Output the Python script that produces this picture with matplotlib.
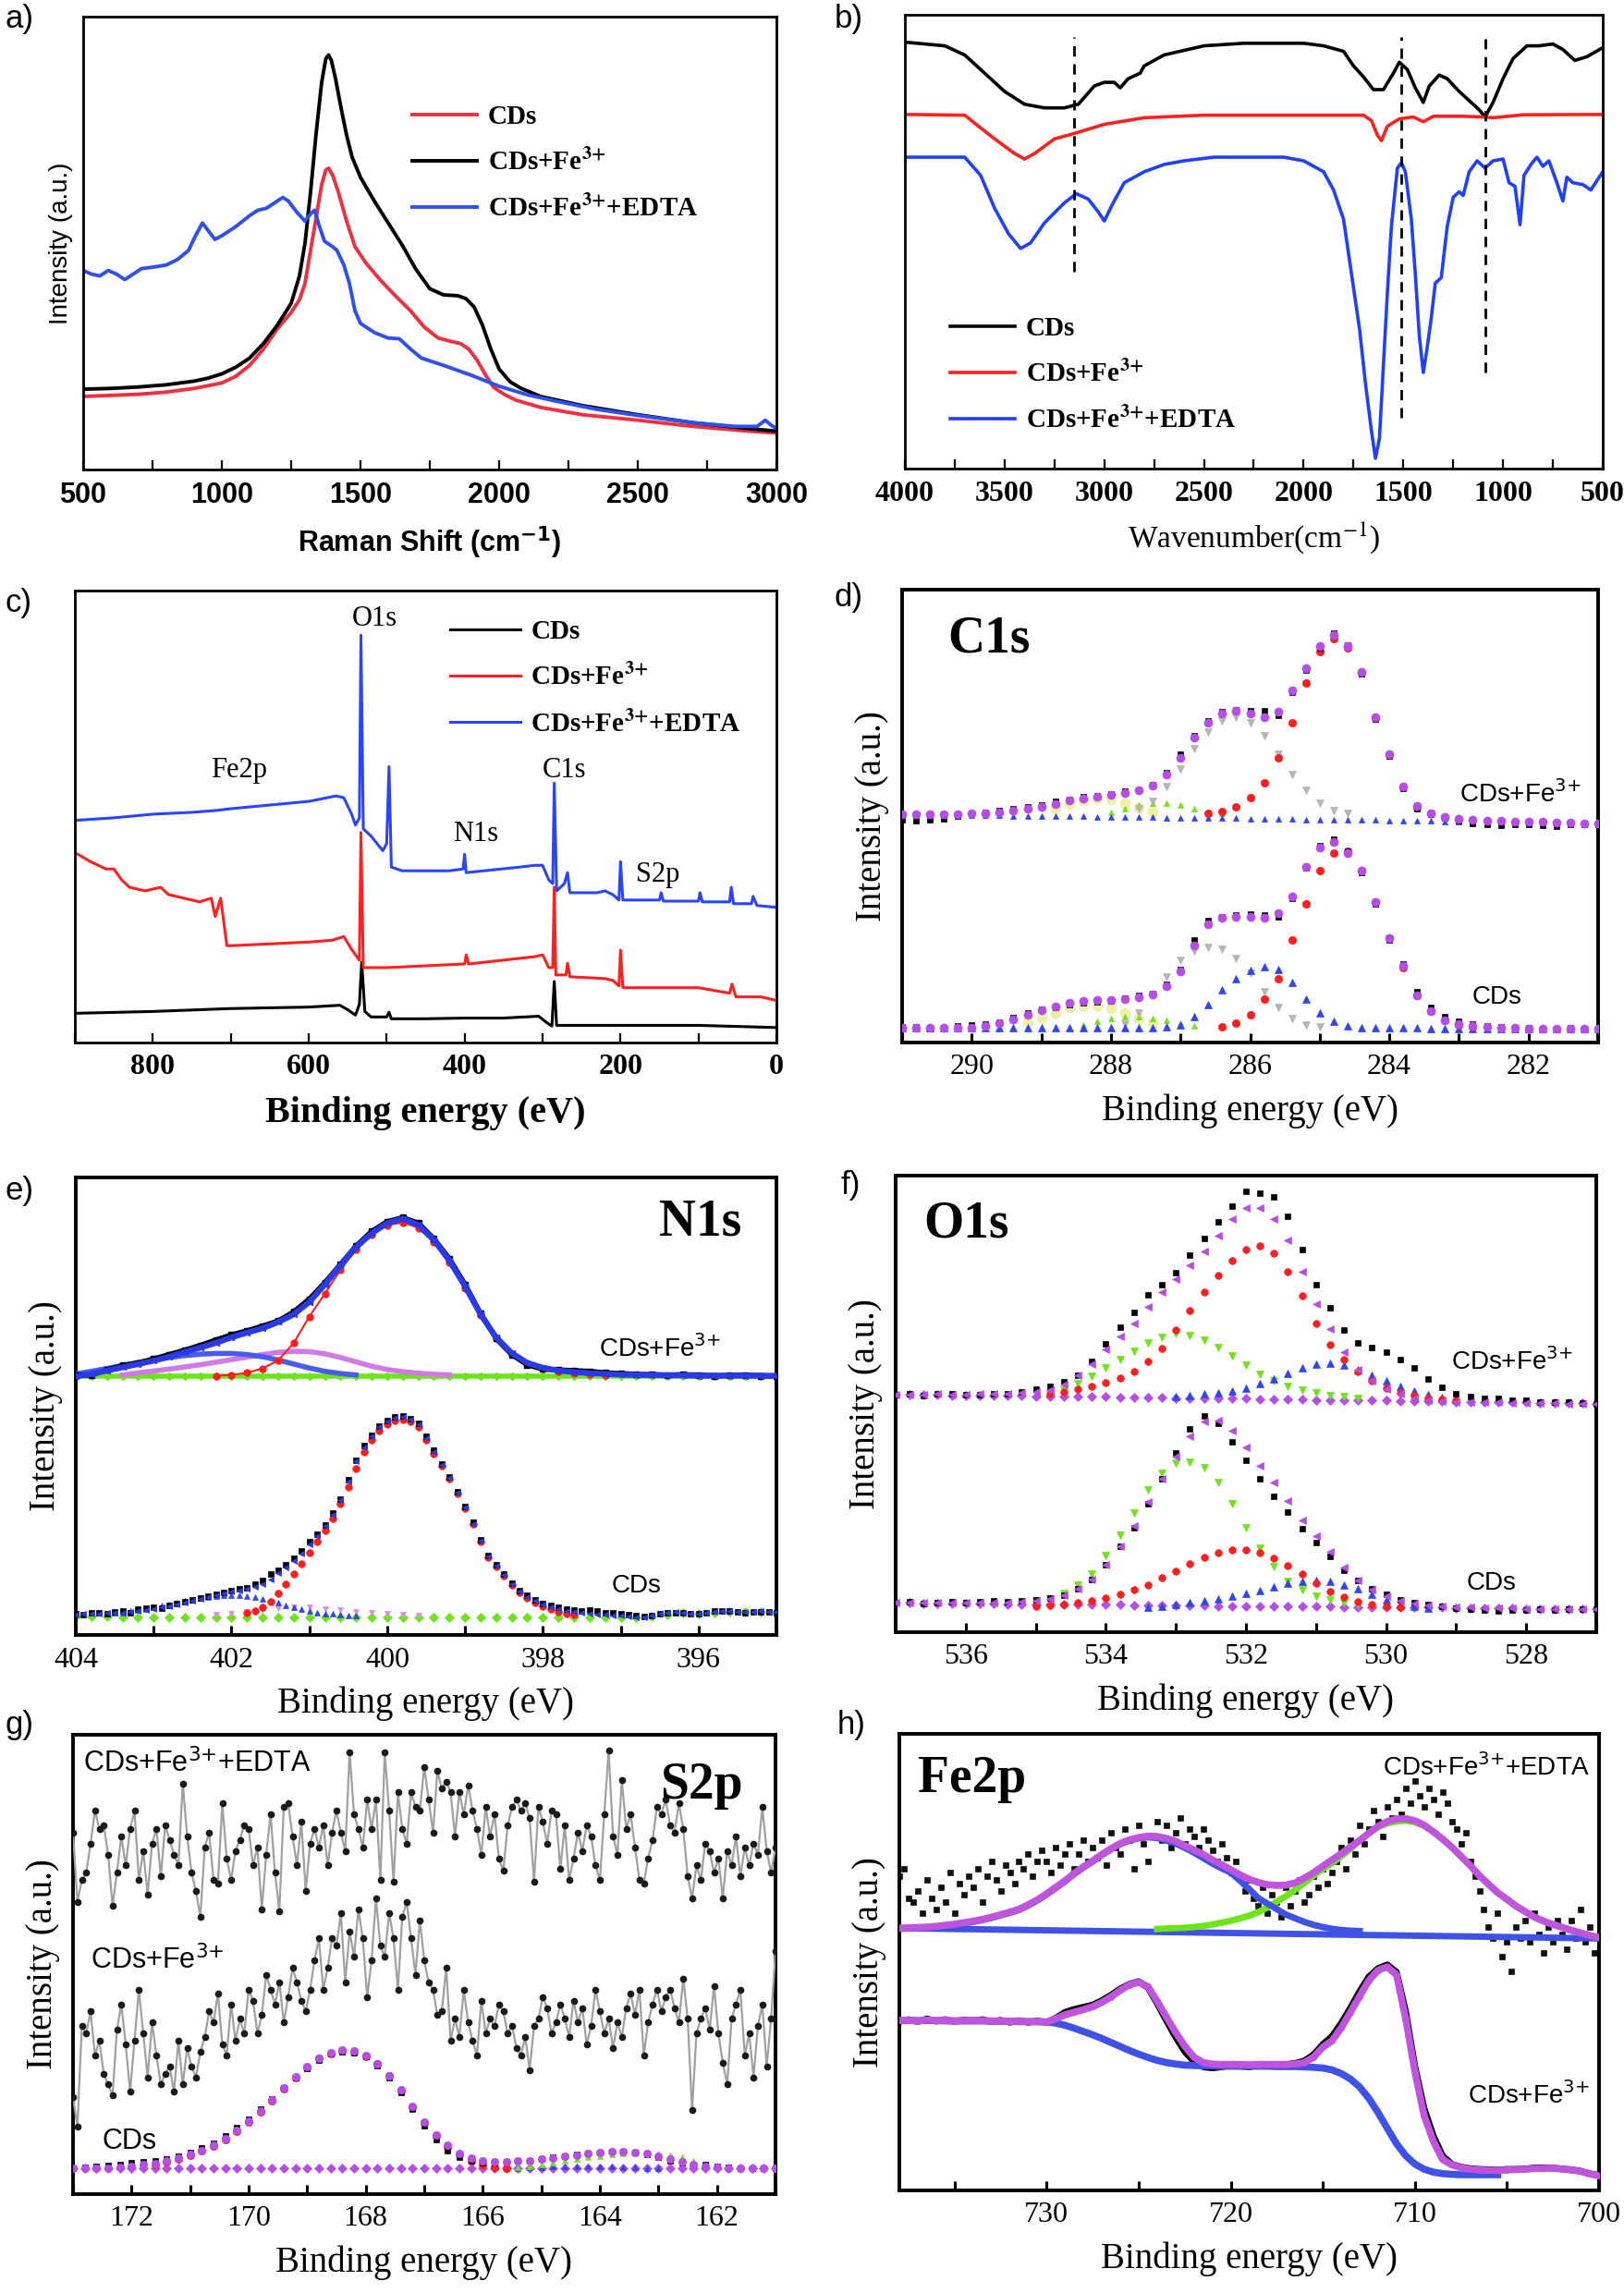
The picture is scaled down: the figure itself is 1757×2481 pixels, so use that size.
import numpy as np
import matplotlib
matplotlib.use("Agg")
import matplotlib.pyplot as plt
from matplotlib.font_manager import FontProperties
from matplotlib.ticker import MultipleLocator

SERIF = ["Liberation Serif", "DejaVu Serif"]
SANS = ["Liberation Sans", "DejaVu Sans"]

# ======================= DATA =======================
# ---- a) Raman ----
raman_x_cds = [500, 600, 700, 800, 900, 1000, 1050, 1100, 1150, 1200, 1250, 1280, 1300, 1320, 1340, 1360, 1375, 1385, 1400, 1420, 1450, 1480, 1520, 1570, 1620, 1680, 1730, 1780, 1830, 1860, 1890, 1920, 1950, 1980, 2020, 2060, 2150, 2300, 2500, 2700, 2900, 3000]
raman_y_cds = [200, 203, 206, 212, 222, 237, 255, 285, 330, 385, 430, 465, 510, 600, 690, 780, 820, 825, 805, 760, 680, 610, 565, 520, 480, 435, 390, 360, 350, 345, 330, 300, 260, 225, 205, 190, 170, 150, 135, 118, 105, 100]
raman_x_fe = [500, 600, 700, 800, 900, 950, 1000, 1050, 1100, 1150, 1200, 1250, 1280, 1300, 1320, 1340, 1360, 1375, 1385, 1395, 1410, 1430, 1450, 1470, 1500, 1550, 1600, 1650, 1700, 1750, 1800, 1850, 1880, 1910, 1940, 1970, 2000, 2040, 2080, 2150, 2300, 2500, 2700, 2900, 3000]
raman_y_fe = [220, 222, 226, 232, 242, 250, 262, 280, 305, 345, 395, 455, 530, 620, 760, 920, 1060, 1125, 1135, 1120, 1070, 990, 915, 855, 800, 735, 675, 615, 548, 495, 478, 476, 468, 445, 395, 330, 275, 240, 222, 200, 175, 150, 128, 112, 105]
raman_x_edta = [500, 530, 560, 590, 620, 650, 680, 710, 760, 800, 840, 880, 905, 930, 955, 975, 1000, 1050, 1100, 1130, 1160, 1190, 1220, 1240, 1270, 1300, 1320, 1335, 1350, 1370, 1400, 1415, 1440, 1460, 1480, 1500, 1550, 1600, 1640, 1680, 1720, 1800, 1900, 2000, 2100, 2200, 2350, 2500, 2700, 2850, 2930, 2960, 2980, 3000]
raman_y_edta = [545, 535, 530, 545, 535, 520, 535, 550, 555, 560, 575, 600, 640, 675, 650, 630, 640, 665, 695, 710, 715, 730, 745, 735, 705, 680, 700, 710, 670, 625, 610, 600, 560, 510, 435, 400, 375, 360, 358, 330, 305, 285, 258, 228, 205, 188, 165, 148, 128, 118, 118, 135, 122, 112]
raman_ticks = [500, 1000, 1500, 2000, 2500, 3000]

# ---- b) FTIR ----
ftir_x_cds = [4000, 3800, 3700, 3600, 3500, 3400, 3300, 3200, 3130, 3050, 3000, 2950, 2920, 2880, 2820, 2800, 2700, 2500, 2300, 2000, 1900, 1800, 1750, 1700, 1650, 1600, 1550, 1520, 1480, 1440, 1400, 1370, 1320, 1280, 1220, 1180, 1120, 1090, 1050, 1000, 950, 880, 820, 750, 700, 640, 580, 500]
ftir_y_cds = [1168, 1158, 1133, 1083, 1033, 998, 988, 988, 998, 1048, 1058, 1058, 1043, 1068, 1083, 1103, 1133, 1158, 1165, 1165, 1158, 1143, 1103, 1073, 1038, 1038, 1083, 1113, 1093, 1043, 1003, 1048, 1078, 1068, 1033, 1013, 983, 963, 1003, 1068, 1123, 1158, 1158, 1163, 1148, 1118, 1128, 1153]
ftir_x_fe = [4000, 3700, 3620, 3550, 3450, 3400, 3350, 3250, 3150, 3000, 2800, 2500, 2000, 1700, 1660, 1630, 1610, 1580, 1520, 1450, 1400, 1350, 1200, 1100, 1050, 900, 500]
ftir_y_fe = [970, 968, 933, 903, 863, 848, 863, 903, 918, 943, 961, 968, 968, 968, 953, 913, 898, 938, 958, 963, 950, 965, 965, 963, 961, 969, 970]
ftir_x_edta = [4000, 3700, 3620, 3550, 3480, 3420, 3370, 3300, 3200, 3140, 3080, 3030, 3000, 2960, 2900, 2800, 2700, 2600, 2450, 2100, 2000, 1900, 1850, 1800, 1760, 1720, 1690, 1660, 1640, 1620, 1600, 1580, 1560, 1530, 1510, 1490, 1460, 1440, 1420, 1400, 1380, 1360, 1340, 1310, 1280, 1250, 1220, 1200, 1170, 1130, 1090, 1050, 1000, 970, 940, 915, 895, 860, 830, 800, 770, 730, 700, 680, 650, 600, 560, 500]
ftir_y_edta = [853, 853, 803, 713, 643, 603, 618, 673, 728, 753, 738, 703, 678, 723, 783, 813, 833, 843, 853, 853, 843, 813, 763, 683, 533, 383, 233, 103, 28, 83, 283, 483, 663, 823, 838, 813, 683, 533, 363, 263, 333, 413, 508, 523, 663, 743, 758, 748, 813, 843, 823, 843, 848, 783, 773, 668, 803, 833, 853, 828, 843, 783, 733, 798, 783, 778, 763, 813]
ftir_dash_x = [3150, 1510, 1090]
ftir_dash_top = [1183, 1183, 1183]
ftir_dash_bottom = [538, 138, 263]
ftir_ticks = [4000, 3500, 3000, 2500, 2000, 1500, 1000, 500]

# ---- c) XPS survey ----
surv_x_cds = [900, 800, 700, 600, 560, 550, 540, 535, 532, 528, 520, 500, 497, 494, 450, 400, 350, 305, 295, 288, 285, 282, 270, 200, 100, 0]
surv_y_cds = [80, 85, 93, 97, 102, 90, 75, 105, 220, 85, 70, 70, 83, 65, 65, 67, 67, 72, 55, 45, 167, 47, 47, 47, 47, 41]
surv_x_fe = [900, 880, 860, 850, 840, 830, 810, 790, 780, 760, 740, 725, 720, 713, 705, 700, 650, 600, 570, 555, 545, 535, 533, 530, 500, 400, 398, 395, 310, 300, 292, 287, 285, 283, 270, 268, 265, 220, 210, 202, 200, 197, 150, 100, 60, 57, 52, 20, 0]
surv_y_fe = [520, 495, 475, 475, 445, 425, 415, 425, 405, 395, 385, 395, 345, 395, 265, 265, 270, 275, 280, 290, 255, 225, 575, 205, 205, 215, 240, 215, 235, 240, 205, 205, 425, 185, 185, 217, 180, 175, 170, 155, 253, 150, 150, 150, 135, 160, 125, 125, 115]
surv_x_edta = [900, 850, 800, 750, 720, 700, 650, 600, 565, 555, 545, 540, 535, 533, 530, 525, 520, 505, 500, 497, 494, 480, 420, 402, 400, 398, 330, 310, 300, 292, 287, 285, 282, 272, 268, 265, 230, 220, 210, 202, 200, 197, 150, 148, 145, 100, 98, 95, 60, 58, 55, 32, 30, 25, 0]
surv_y_edta = [608, 615, 625, 630, 635, 640, 650, 660, 675, 670, 625, 595, 615, 1115, 585, 575, 565, 525, 545, 755, 480, 470, 470, 475, 515, 465, 480, 485, 485, 445, 435, 710, 415, 435, 465, 410, 410, 415, 405, 390, 495, 390, 390, 410, 387, 387, 410, 385, 385, 425, 380, 380, 400, 375, 370]
surv_ann_text = ["O1s", "Fe2p", "C1s", "N1s", "S2p"]
surv_ann_x = [516, 690, 272, 386, 152]
surv_ann_y = [1160, 745, 745, 570, 460]
surv_ticks = [800, 600, 400, 200, 0]

# ---- d) C1s (grid 291 -> 281, step 0.2 eV) ----
c1s_up_env = [625, 625, 625, 625, 626, 627, 628, 630, 634, 640, 645, 653, 662, 668, 673, 677, 683, 690, 703, 735, 780, 835, 875, 900, 908, 900, 890, 905, 965, 1025, 1085, 1117, 1085, 1015, 890, 790, 700, 648, 628, 618, 612, 610, 608, 607, 606, 605, 604, 603, 602, 601, 600]
c1s_up_data = [610, 608, 610, 612, 620, 628, 630, 634, 640, 646, 650, 660, 665, 672, 676, 681, 688, 692, 705, 740, 790, 840, 880, 905, 910, 908, 908, 895, 960, 1020, 1080, 1122, 1088, 1010, 885, 785, 695, 640, 625, 615, 608, 600, 596, 594, 596, 598, 595, 592, 596, 598, 598]
c1s_up_red = [627, 632, 645, 670, 710, 780, 875, 985, 1070, 1105, 1080, 1012, 888, 788, 698, 644, 627, 618, 612]          # 286.6 -> 283.0
c1s_up_gray = [640, 660, 700, 750, 805, 850, 880, 890, 875, 840, 790, 735, 690, 655, 635, 627]                       # 287.6 -> 284.6
c1s_up_green = [630, 640, 650, 655, 655, 650, 640, 632, 627]                                                          # 288.0 -> 286.4
c1s_up_yellow = [640, 652, 662, 667, 665, 655, 642, 632]                                                              # 288.8 -> 287.4
c1s_up_blue = [625, 625, 624, 624, 623, 623, 622, 622, 621, 621, 620, 620, 619, 619, 618, 618, 617, 617, 617, 616, 616, 615, 615, 614, 614, 613, 613, 612, 612, 611, 611, 610, 610, 609, 609, 608, 608, 607, 607, 606, 606, 605, 605, 604, 604, 603, 603, 602, 601, 601, 600]
c1s_lo_env = [40, 40, 40, 40, 40, 41, 46, 53, 63, 75, 88, 98, 108, 115, 116, 117, 120, 123, 131, 155, 195, 265, 325, 342, 345, 345, 342, 355, 400, 480, 535, 550, 520, 470, 385, 285, 210, 130, 85, 62, 50, 45, 42, 40, 40, 39, 39, 38, 38, 37, 37]
c1s_lo_data = [42, 44, 38, 41, 45, 48, 50, 56, 68, 80, 92, 96, 103, 110, 112, 114, 122, 130, 135, 160, 200, 280, 335, 345, 350, 352, 350, 345, 395, 478, 540, 556, 524, 465, 380, 280, 215, 140, 95, 70, 58, 50, 46, 42, 41, 40, 38, 39, 40, 39, 37]
c1s_lo_red = [42, 52, 75, 120, 175, 280, 380, 470, 520, 525, 470, 385, 285, 205, 130, 85, 60, 48, 42]                  # 286.4 -> 282.8
c1s_lo_gray = [50, 80, 130, 180, 225, 250, 260, 255, 230, 190, 140, 95, 65, 48, 42]                                    # 287.8 -> 285.0
c1s_lo_green = [48, 58, 66, 70, 70, 67, 60, 52, 45]                                                                   # 288.4 -> 286.8
c1s_lo_yellow = [55, 68, 82, 95, 100, 100, 93, 80, 65, 52]                                                           # 289.2 -> 287.4
c1s_lo_blue = [40, 40, 40, 40, 40, 40, 40, 40, 40, 40, 40, 40, 40, 40, 40, 40, 40, 40, 40, 44, 48, 72, 105, 143, 175, 197, 207, 200, 165, 118, 80, 57, 45, 41, 40, 40, 40, 40, 39, 39, 39, 39, 38, 38, 38, 38, 38, 37, 37, 37, 37]
c1s_ticks = [290, 288, 286, 284, 282]

# ---- e) N1s ----
n1s_up_env = [708, 715, 724, 733, 742, 751, 762, 775, 787, 800, 815, 828, 840, 857, 878, 912, 960, 1012, 1062, 1100, 1128, 1140, 1123, 1082, 1025, 955, 878, 815, 772, 745, 732, 724, 720, 717, 715, 713, 712, 712, 711, 711, 710, 710, 710, 710, 710, 710]   # 404 -> 395 (0.2)
n1s_up_data = [712, 712, 726, 738, 745, 756, 768, 780, 793, 808, 822, 833, 846, 860, 885, 920, 965, 1015, 1065, 1105, 1132, 1143, 1128, 1085, 1030, 960, 880, 812, 768, 740, 728, 726, 724, 722, 718, 716, 714, 713, 712, 713, 712, 710, 711, 712, 710, 709]
n1s_up_red = [710, 712, 718, 730, 752, 800, 872, 935, 1000, 1055, 1095, 1122, 1130, 1115, 1075, 1020, 950, 875, 812, 770, 743, 730, 722, 717, 713, 711]   # 402.2 -> 397.2
n1s_up_purple = [712, 718, 723, 728, 734, 740, 747, 754, 761, 768, 774, 777, 776, 770, 760, 748, 736, 727, 721, 717, 714, 712]                            # 403.4 -> 399.2
n1s_up_bluec = [715, 722, 730, 738, 746, 753, 760, 765, 769, 771, 771, 768, 762, 753, 742, 731, 722, 716, 712]                                            # 404.0 -> 400.4
n1s_up_base = [708, 708, 708, 708, 708, 708, 708, 708, 708, 708, 708, 708, 708, 708, 708, 708, 708, 708, 708, 708, 708, 708, 708, 708, 708, 708, 708, 708, 708, 708, 708, 708, 708, 708, 708, 708, 708, 708, 708, 708, 708, 708, 708, 708, 708, 708]
n1s_lo_env = [56, 57, 58, 59, 60, 61, 62, 63, 66, 69, 72, 75, 79, 84, 89, 94, 99, 104, 108, 113, 118, 122, 127, 132, 140, 153, 170, 185, 203, 222, 248, 270, 298, 330, 370, 420, 475, 515, 545, 570, 585, 595, 598, 590, 578, 540, 500, 465, 430, 390, 350, 305, 258, 215, 190, 165, 140, 120, 105, 93, 83, 76, 71, 67, 63, 60, 58, 56, 55, 54, 53, 50, 48, 48, 52, 57, 60, 63, 61, 59, 58, 60, 64, 67, 66, 64, 63, 64, 65, 64, 63]   # 404 -> 395 (0.1)
n1s_lo_data = [58, 55, 60, 62, 58, 64, 66, 62, 70, 74, 76, 73, 82, 86, 92, 96, 102, 106, 112, 116, 122, 126, 130, 138, 150, 168, 176, 192, 210, 230, 255, 276, 300, 335, 372, 424, 478, 518, 548, 572, 588, 598, 600, 592, 580, 545, 505, 468, 433, 392, 352, 308, 260, 218, 192, 168, 142, 122, 108, 96, 86, 80, 75, 72, 68, 66, 68, 66, 62, 60, 58, 55, 52, 50, 53, 58, 61, 62, 60, 58, 57, 61, 65, 66, 65, 63, 62, 63, 64, 63, 62]
n1s_lo_red = [60, 66, 76, 92, 115, 140, 168, 195, 225, 255, 285, 320, 360, 405, 455, 500, 535, 560, 578, 587, 590, 584, 570, 535, 497, 462, 427, 388, 348, 303, 256, 213, 188, 162, 137, 117, 100, 88, 78, 70, 63, 58, 55]   # 401.8 -> 397.6
n1s_lo_bluec = [58, 60, 62, 65, 68, 72, 76, 80, 84, 89, 93, 97, 101, 104, 106, 108, 108, 108, 106, 103, 99, 94, 88, 82, 76, 70, 66, 62, 59, 57, 55, 54, 53]   # 403.6 -> 400.4
n1s_lo_purple = [56, 59, 63, 68, 73, 76, 75, 72, 68, 64, 60, 57, 55, 54]   # 402.2 -> 399.6
n1s_lo_base = [50, 50, 50, 49, 49, 49, 49, 49, 49, 49, 49, 49, 49, 49, 49, 49, 49, 49, 49, 49, 49, 49, 49, 49, 49, 49, 49, 49, 49, 49, 49, 49, 49, 48, 48, 48, 48, 50, 56, 60, 58, 60, 64, 64, 63, 63]
n1s_ticks = [404, 402, 400, 398, 396]

# ---- f) O1s (grid 537 -> 527, 0.2) ----
o1s_up_env = [650, 650, 650, 651, 650, 650, 651, 651, 652, 654, 657, 663, 678, 703, 733, 772, 808, 845, 890, 930, 965, 1003, 1041, 1085, 1130, 1160, 1160, 1130, 1070, 985, 898, 828, 765, 718, 688, 665, 652, 640, 635, 631, 630, 629, 628, 628, 627, 627, 626, 626, 625, 625, 625]
o1s_up_data = [650, 652, 648, 651, 653, 650, 649, 652, 653, 658, 664, 672, 684, 702, 740, 787, 833, 873, 921, 950, 983, 1030, 1075, 1122, 1165, 1205, 1200, 1190, 1137, 1045, 950, 886, 825, 790, 778, 765, 745, 722, 693, 670, 652, 643, 640, 638, 634, 633, 630, 629, 628, 626, 625]
o1s_up_red = [652, 658, 665, 673, 683, 695, 712, 740, 775, 825, 880, 930, 975, 1015, 1045, 1055, 1035, 985, 920, 845, 785, 745, 712, 688, 668, 655, 646, 640, 636, 633]   # 534.8 -> 529.0
o1s_up_green = [655, 663, 680, 700, 722, 745, 768, 790, 806, 815, 812, 798, 778, 755, 730, 705, 688, 673, 662, 654, 648, 643, 640]   # 534.8 -> 530.4
o1s_up_blue = [645, 648, 651, 655, 660, 668, 680, 693, 707, 722, 732, 735, 730, 718, 703, 687, 672, 660, 650, 642, 636]   # 533.0 -> 529.0
o1s_up_base = [650, 650, 649, 649, 648, 648, 647, 647, 646, 646, 645, 645, 644, 644, 643, 643, 642, 642, 641, 641, 640, 640, 639, 639, 638, 638, 637, 637, 636, 636, 635, 635, 634, 634, 633, 633, 632, 632, 631, 631, 630, 630, 629, 629, 628, 628, 627, 627, 626, 626, 625]
o1s_lo_env = [80, 80, 80, 81, 81, 81, 81, 82, 82, 83, 85, 90, 100, 118, 145, 185, 235, 290, 355, 420, 480, 535, 575, 578, 550, 505, 455, 410, 360, 305, 262, 220, 178, 142, 115, 98, 86, 78, 73, 70, 68, 67, 66, 65, 65, 64, 64, 63, 63, 62, 62]
o1s_lo_data = [80, 83, 79, 82, 84, 81, 83, 85, 84, 86, 88, 93, 102, 120, 145, 185, 235, 285, 350, 420, 490, 555, 590, 570, 520, 470, 420, 372, 328, 282, 245, 208, 170, 142, 120, 104, 88, 80, 75, 70, 66, 63, 60, 58, 60, 61, 62, 61, 63, 62, 62]
o1s_lo_green = [85, 92, 105, 128, 160, 210, 265, 325, 390, 435, 462, 465, 450, 410, 350, 285, 230, 180, 140, 115, 98, 88, 80, 75]   # 535.0 -> 530.4
o1s_lo_red = [72, 74, 77, 81, 87, 94, 104, 115, 130, 148, 168, 188, 205, 217, 224, 225, 218, 203, 182, 158, 133, 112, 95, 83, 75, 70, 67]   # 535.0 -> 529.8
o1s_lo_blue = [68, 72, 76, 80, 85, 91, 98, 106, 114, 124, 133, 139, 141, 139, 130, 118, 103, 88, 77, 70, 66]   # 533.4 -> 529.4
o1s_lo_base = [80, 80, 79, 79, 79, 78, 78, 78, 77, 77, 77, 76, 76, 76, 75, 75, 75, 74, 74, 74, 73, 73, 73, 72, 72, 72, 71, 71, 71, 70, 70, 70, 69, 69, 69, 68, 68, 68, 67, 67, 66, 66, 66, 65, 65, 64, 64, 63, 63, 62, 62]
o1s_ticks = [536, 534, 532, 530, 528]

# ---- g) S2p ----
s2p_edta = [990, 800, 860, 880, 960, 1050, 1000, 1010, 930, 790,
            880, 980, 900, 1000, 1050, 860, 940, 820, 960, 1000,
            870, 1010, 970, 930, 900, 1125, 980, 880, 830, 760,
            950, 990, 860, 850, 1070, 920, 860, 940, 970, 1010,
            1000, 900, 950, 780, 930, 1040, 880, 775, 1060, 1070,
            980, 900, 1020, 830, 960, 1000, 950, 1010, 900, 990,
            1050, 990, 940, 1210, 1040, 1000, 950, 1080, 1000, 1080,
            860, 1210, 1050, 855, 1100, 1000, 960, 1100, 1060, 1050,
            1170, 1080, 990, 1160, 1110, 1130, 1100, 980, 1100, 1040,
            1120, 1050, 1000, 930, 1060, 980, 1040, 920, 885, 1010,
            1060, 1080, 1050, 1070, 1030, 855, 1060, 1020, 960, 1050,
            1040, 890, 1010, 860, 920, 990, 940, 1010, 980, 900,
            860, 1040, 1215, 980, 930, 1135, 1000, 1040, 950, 860,
            850, 920, 970, 1060, 1040, 1080, 1010, 990, 1070, 1000,
            870, 810, 900, 860, 960, 940, 880, 920, 810, 940,
            900, 980, 870, 950, 900, 960, 930, 1060, 940, 880,
            950]
s2p_fe = [265, 185, 460, 440, 500, 380, 420, 330, 300, 270,
          450, 520, 410, 280, 420, 560, 440, 320, 470, 380,
          300, 330, 350, 280, 420, 300, 400, 350, 320, 390,
          430, 500, 470, 550, 410, 380, 520, 420, 480, 440,
          560, 530, 440, 490, 600, 560, 520, 580, 470, 540,
          620, 580, 530, 500, 560, 640, 700, 560, 620, 700,
          680, 770, 580, 720, 650, 780, 700, 540, 640, 810,
          680, 650, 770, 700, 560, 760, 800, 700, 600, 750,
          640, 580, 560, 490, 500, 620, 420, 480, 430, 560,
          470, 420, 380, 530, 440, 480, 460, 520, 500, 440,
          460, 400, 380, 430, 340, 460, 480, 540, 510, 440,
          470, 520, 480, 430, 530, 470, 510, 410, 460, 560,
          500, 440, 480, 400, 470, 430, 510, 550, 490, 560,
          380, 470, 520, 560, 500, 540, 560, 510, 470, 590,
          480, 230, 440, 480, 510, 450, 570, 440, 360, 300,
          480, 520, 560, 380, 440, 320, 460, 520, 350, 480,
          665]
s2p_env = [70, 70, 71, 72, 74, 77, 80, 84, 90, 98, 108, 120, 134, 152, 175, 200, 228, 258, 290, 322, 350, 373, 388, 395, 392, 380, 358, 325, 285, 240, 198, 162, 133, 112, 98, 91, 89, 89, 90, 92, 95, 99, 103, 107, 111, 114, 116, 116, 115, 111, 105, 97, 89, 82, 77, 74, 72, 71, 70, 70, 70]   # 173 -> 161 (0.2)
s2p_data = [72, 74, 76, 78, 80, 85, 88, 92, 96, 104, 114, 126, 140, 160, 182, 205, 232, 260, 292, 318, 345, 368, 385, 390, 388, 378, 352, 318, 278, 232, 188, 150, 120, 100, 90, 86, 86, 88, 90, 92, 95, 100, 104, 108, 112, 114, 116, 117, 115, 110, 102, 92, 86, 82, 80, 76, 74, 72, 71, 70, 72]
s2p_red = [82, 88, 96, 106, 118, 132, 150, 173, 198, 226, 256, 288, 320, 348, 371, 386, 393, 390, 378, 356, 323, 283, 238, 196, 160, 130, 108, 92, 80, 74, 71]   # 171.6 -> 165.6
s2p_green = [72, 74, 77, 81, 85, 90, 95, 100, 104, 108, 112, 114, 114, 112, 107, 100, 92, 84, 78, 74]   # 165.6 -> 161.8
s2p_blue = [71, 72, 73, 74, 75, 76, 76, 76, 76, 75, 74, 73, 72, 71]   # 165.6 -> 163.0
s2p_base = [70, 70, 70, 70, 70, 70, 70, 70, 70, 70, 70, 70, 70, 70, 70, 70, 70, 70, 70, 70, 70, 70, 70, 70, 70, 70, 70, 70, 70, 70, 70, 70, 70, 70, 70, 70, 70, 70, 70, 70, 70, 70, 70, 70, 70, 70, 70, 70, 70, 70, 70, 70, 70, 70, 70, 70, 70, 70, 70, 70, 70]
s2p_ticks = [172, 170, 168, 166, 164, 162]

# ---- h) Fe2p ----
fe_up_data = [860, 880, 800, 790, 820, 760, 850, 800, 770, 830, 790, 870, 760, 840, 810, 860,
              830, 880, 790, 860, 900, 850, 820, 890, 870, 840, 900, 880, 920, 860, 900, 930,
              900, 870, 940, 890, 920, 950, 880, 920, 960, 900, 940, 910, 960, 890, 980, 940,
              920, 990, 960, 880, 1000, 950, 900, 970, 1010, 960, 1000, 940, 980, 1020, 950, 990,
              970, 940, 990, 960, 930, 900, 950, 910, 870, 900, 860, 820, 850, 800, 780, 830,
              760, 810, 790, 750, 830, 780, 820, 850, 790, 810, 860, 830, 880, 840, 870, 900,
              940, 880, 960, 920, 1000, 950, 990, 1040, 1010, 970, 1050, 1020, 1070, 1030, 1100, 1060,
              1120, 1080, 1050, 1100, 1070, 1030, 1090, 1060, 1010, 990, 950, 980, 900, 860, 820, 770,
              720, 690, 760, 640, 680, 600, 720, 690, 740, 680, 760, 700, 650, 720, 680, 740,
              700, 660, 740, 690, 770, 680, 720, 650, 690]   # 738 -> 700 (0.25)
fe_up_env = [718, 719, 720, 721, 723, 726, 729, 733, 737, 742,
             748, 755, 762, 770, 782, 796, 812, 830, 848, 868,
             886, 902, 920, 936, 950, 960, 966, 970, 969, 964,
             956, 944, 932, 920, 905, 892, 878, 864, 852, 843,
             837, 835, 836, 842, 855, 870, 888, 905, 922, 940,
             958, 978, 997, 1010, 1017, 1018, 1012, 1000, 982, 962,
             940, 915, 890, 862, 838, 815, 797, 778, 763, 748,
             737, 728, 720, 712, 705, 698, 692]   # 738 -> 700 (0.5)
fe_up_blue = [716, 717, 718, 719, 721, 724, 727, 731, 735, 740,
              746, 753, 760, 768, 780, 794, 810, 828, 846, 866,
              884, 900, 918, 934, 948, 958, 964, 967, 965, 958,
              950, 938, 925, 910, 895, 882, 870, 848, 825, 800,
              785, 770, 755, 745, 735, 727, 721, 716, 713, 711,
              710]   # 738 -> 713
fe_up_green = [716, 717, 718, 719, 721, 724, 728, 733, 738, 745,
               752, 762, 775, 790, 806, 823, 842, 862, 880, 896,
               915, 935, 958, 978, 995, 1005, 1010, 1012, 1008, 998,
               982, 962, 940, 915, 890, 862, 838, 815, 797, 778,
               763, 748, 737, 728, 720, 712, 705, 698, 692]   # 724 -> 700
fe_up_base = [718, 711, 704, 697, 690]   # 738 -> 700
fe_lo_env = [465, 466, 464, 467, 465, 466, 464, 465, 466, 465,
             464, 464, 463, 463, 462, 462, 461, 470, 481, 488,
             495, 503, 515, 530, 548, 563, 570, 558, 518, 475,
             433, 395, 365, 350, 346, 345, 345, 345, 344, 345,
             345, 345, 345, 346, 350, 365, 392, 410, 445, 488,
             532, 575, 603, 612, 590, 470, 325, 205, 135, 85,
             70, 62, 58, 56, 55, 55, 56, 57, 58, 60,
             60, 61, 58, 56, 52, 45, 40]
fe_lo_data = [462, 468, 462, 470, 463, 468, 462, 467, 464, 468,
              462, 466, 460, 465, 460, 464, 460, 472, 488, 496,
              502, 508, 520, 535, 552, 565, 572, 555, 512, 465,
              420, 380, 352, 338, 335, 338, 342, 340, 338, 342,
              340, 343, 345, 348, 355, 372, 400, 422, 458, 500,
              545, 585, 608, 618, 598, 490, 340, 225, 150, 95,
              72, 64, 60, 58, 57, 56, 58, 58, 59, 62,
              62, 62, 59, 57, 53, 46, 41]
fe_lo_blue = [465, 465, 465, 465, 465, 464, 464, 464, 464, 464,
              463, 463, 463, 462, 462, 462, 461, 458, 452, 444,
              435, 426, 416, 405, 394, 383, 373, 364, 356, 350,
              346, 343, 342, 341, 341, 340, 340, 340, 340, 340,
              340, 339, 339, 339, 338, 337, 335, 330, 320, 305,
              283, 252, 213, 170, 128, 95, 72, 58, 50, 46,
              44, 43, 43, 43, 43, 43]   # 738 -> 705.5
fe_lo_green = [322, 308, 288, 260, 222, 180, 138, 102, 76, 62, 53, 48, 45, 44, 43]   # 714 -> 707
fe_ticks = [730, 720, 710, 700]

# ======================= STYLE =======================
RED = "#ff1f1f"
BLUE = "#2f45ee"
PURPLE = "#b54ee6"
GREEN = "#6ee41c"
GRAY = "#b5b5b5"
YELLOW = "#eef0a6"

W, H = 1758, 2481
fig = plt.figure(figsize=(W / 100, H / 100), dpi=100)
fig.patch.set_facecolor("white")


def add_ax(l, r, t, b):
    return fig.add_axes([l / W, 1 - b / H, (r - l) / W, (b - t) / H])


def style(ax, ticks, minor, fp, lw=2.2, tlen=8, pad=9):
    for s in ax.spines.values():
        s.set_linewidth(lw)
    ax.set_yticks([])
    ax.set_xticks(ticks)
    ax.set_xticklabels([str(t) for t in ticks], fontproperties=fp)
    ax.xaxis.set_minor_locator(MultipleLocator(minor))
    ax.tick_params(axis="x", which="both", direction="in", top=False, width=lw * 0.8, pad=pad)
    ax.tick_params(axis="x", which="major", length=tlen)
    ax.tick_params(axis="x", which="minor", length=tlen)


def grid(x0, x1, ys):
    return np.linspace(x0, x1, len(ys))


def dots(ax, x0, x1, ys, color, marker="o", ms=6, z=2, mec=None):
    ax.plot(grid(x0, x1, ys), ys, ls="none", marker=marker, ms=ms, color=color,
            mec=mec if mec else color, mew=0.5, zorder=z)


fp_sans_b22 = FontProperties(family=SANS, weight="bold", size=22)
fp_serif_b23 = FontProperties(family=SERIF, weight="bold", size=23)
fp_serif_22 = FontProperties(family=SERIF, size=23)
fp_leg = FontProperties(family=SERIF, weight="bold", size=21, math_fontfamily="stix")
fp_xlab_serif = FontProperties(family=SERIF, size=28, math_fontfamily="stix")
fp_ylab_serif = FontProperties(family=SERIF, size=28)
fp_lab_sans = FontProperties(family=SANS, size=20, math_fontfamily="dejavusans")
fp_big = FontProperties(family=SERIF, weight="bold", size=40)
fp_panel = FontProperties(family=SANS, size=25)

FE3 = "CDs+Fe$^{\\mathbf{3{+}}}$"
EDTA = "CDs+Fe$^{\\mathbf{3{+}}}$+EDTA"
FE3s = "CDs+Fe$^{3{+}}$"
EDTAs = "CDs+Fe$^{3{+}}$+EDTA"

# ---------------- a) ----------------
ax = add_ax(90, 840, 18, 508)
ax.plot(raman_x_cds, raman_y_cds, color="#f03040", lw=2.8, label="CDs")
ax.plot(raman_x_fe, raman_y_fe, color="black", lw=2.8, label=FE3)
ax.plot(raman_x_edta, raman_y_edta, color="#3050ee", lw=2.8, label=EDTA)
ax.set_xlim(500, 3000)
ax.set_ylim(0, 1240)
style(ax, raman_ticks, 250, fp_sans_b22, lw=2.0, tlen=7)
ax.set_xlabel("Raman Shift (cm$^{\\mathbf{-1}}$)", fontproperties=FontProperties(family=SANS, weight="bold", size=22, math_fontfamily="dejavusans"), labelpad=12)
ax.set_ylabel("Intensity (a.u.)", fontproperties=FontProperties(family=SANS, size=20), labelpad=8)
ax.legend(loc="upper left", bbox_to_anchor=(0.44, 0.86), frameon=False, prop=fp_leg,
          handlelength=2.4, handletextpad=0.4, labelspacing=0.75)

# ---------------- b) ----------------
ax = add_ax(979, 1734, 16, 507)
ax.plot(ftir_x_cds, ftir_y_cds, color="black", lw=2.6, label="CDs")
ax.plot(ftir_x_fe, ftir_y_fe, color="#ff2020", lw=2.6, label=FE3)
ax.plot(ftir_x_edta, ftir_y_edta, color="#2040ff", lw=2.6, label=EDTA)
ax.vlines(ftir_dash_x, ftir_dash_bottom, ftir_dash_top, colors="black", linestyles=(0, (4, 3)), lw=2.0)
ax.set_xlim(4000, 500)
ax.set_ylim(0, 1243)
style(ax, ftir_ticks, 250, fp_serif_b23, lw=2.0, tlen=7)
ax.set_xlabel("Wavenumber(cm$^{-1}$)", fontproperties=FontProperties(family=SERIF, size=24, math_fontfamily="stix"), labelpad=10)
ax.legend(loc="upper left", bbox_to_anchor=(0.03, 0.39), frameon=False, prop=fp_leg,
          handlelength=2.4, handletextpad=0.4, labelspacing=0.75)

# ---------------- c) ----------------
ax = add_ax(81, 840, 639, 1128)
ax.plot(surv_x_cds, surv_y_cds, color="black", lw=2.2, label="CDs")
ax.plot(surv_x_fe, surv_y_fe, color="#ff2020", lw=2.2, label=FE3)
ax.plot(surv_x_edta, surv_y_edta, color="#2a45ff", lw=2.2, label=EDTA)
for t, xx, yy in zip(surv_ann_text, surv_ann_x, surv_ann_y):
    ax.text(xx, yy, t, ha="center", va="center", fontproperties=FontProperties(family=SERIF, size=22))
ax.set_xlim(900, 0)
ax.set_ylim(0, 1237)
style(ax, surv_ticks, 100, fp_serif_b23, lw=2.0, tlen=7)
ax.set_xlabel("Binding energy (eV)", fontproperties=FontProperties(family=SERIF, weight="bold", size=29), labelpad=12)
ax.legend(loc="upper left", bbox_to_anchor=(0.5, 0.99), frameon=False, prop=fp_leg,
          handlelength=2.6, handletextpad=0.4, labelspacing=0.75)

# ---------------- d) C1s ----------------
ax = add_ax(976, 1729, 638, 1128)
dots(ax, 288.8, 287.4, c1s_up_yellow, YELLOW, "o", 8, 2)
dots(ax, 289.2, 287.4, c1s_lo_yellow, YELLOW, "o", 8, 2)
dots(ax, 288.0, 286.4, c1s_up_green, GREEN, "^", 5, 3)
dots(ax, 288.4, 286.8, c1s_lo_green, GREEN, "^", 5, 3)
dots(ax, 287.6, 284.6, c1s_up_gray, GRAY, "v", 6, 3)
dots(ax, 287.8, 285.0, c1s_lo_gray, GRAY, "v", 6, 3)
dots(ax, 291.0, 281.0, c1s_up_blue, BLUE, "^", 5, 3)
dots(ax, 291.0, 281.0, c1s_lo_blue, BLUE, "^", 5.5, 3)
dots(ax, 286.6, 283.0, c1s_up_red, RED, "o", 6, 4)
dots(ax, 286.4, 282.8, c1s_lo_red, RED, "o", 6, 4)
dots(ax, 291.0, 281.0, c1s_up_data, "black", "s", 5, 5)
dots(ax, 291.0, 281.0, c1s_lo_data, "black", "s", 5, 5)
dots(ax, 291.0, 281.0, c1s_up_env, PURPLE, "o", 6.5, 6)
dots(ax, 291.0, 281.0, c1s_lo_env, PURPLE, "o", 6.5, 6)
ax.set_xlim(291, 281)
ax.set_ylim(0, 1240)
style(ax, c1s_ticks, 1, fp_serif_22, lw=2.8, tlen=7)
ax.set_xlabel("Binding energy (eV)", fontproperties=fp_xlab_serif, labelpad=10)
ax.set_ylabel("Intensity (a.u.)", fontproperties=fp_ylab_serif, labelpad=10)
ax.text(290.35, 1105, "C1s", ha="left", va="center", fontproperties=fp_big)
ax.text(281.25, 680, FE3s, ha="right", va="center", fontproperties=fp_lab_sans)
ax.text(282.45, 125, "CDs", ha="center", va="center", fontproperties=fp_lab_sans)

# ---------------- e) N1s ----------------
ax = add_ax(82, 840, 1274, 1769)
ax.plot(grid(404, 395, n1s_up_base), n1s_up_base, color=GREEN, lw=4, marker="D", ms=4, zorder=2)
dots(ax, 404, 395, n1s_lo_base, GREEN, "D", 5, 2)
ax.plot(grid(403.4, 399.2, n1s_up_purple), n1s_up_purple, color="#d07ae8", lw=4, zorder=3)
ax.plot(grid(404.0, 400.4, n1s_up_bluec), n1s_up_bluec, color="#4a5cf0", lw=4, zorder=3)
dots(ax, 402.2, 399.6, n1s_lo_purple, "#e08ae8", "v", 4.5, 3)
dots(ax, 403.6, 400.4, n1s_lo_bluec, BLUE, "^", 5, 3)
ax.plot(grid(402.2, 397.2, n1s_up_red), n1s_up_red, color=RED, lw=1.5, marker="o", ms=5, zorder=4)
dots(ax, 401.8, 397.6, n1s_lo_red, RED, "o", 5.5, 4)
ax.plot(grid(404, 395, n1s_up_data), n1s_up_data, color="black", lw=4, marker="s", ms=4, zorder=5)
dots(ax, 404, 395, n1s_lo_data, "black", "s", 5, 5)
ax.plot(grid(404, 395, n1s_up_env), n1s_up_env, color="#2a3ae8", lw=4.5, marker="<", ms=4, zorder=6)
dots(ax, 404, 395, n1s_lo_env, "#2a3ae8", "<", 5, 6)
ax.set_xlim(404, 395)
ax.set_ylim(0, 1253)
style(ax, n1s_ticks, 1, fp_serif_22, lw=2.8, tlen=7)
ax.set_xlabel("Binding energy (eV)", fontproperties=fp_xlab_serif, labelpad=10)
ax.set_ylabel("Intensity (a.u.)", fontproperties=fp_ylab_serif, labelpad=10)
ax.text(395.45, 1130, "N1s", ha="right", va="center", fontproperties=fp_big)
ax.text(396.5, 785, FE3s, ha="center", va="center", fontproperties=fp_lab_sans)
ax.text(396.8, 133, "CDs", ha="center", va="center", fontproperties=fp_lab_sans)

# ---------------- f) O1s ----------------
ax = add_ax(969, 1727, 1272, 1766)
dots(ax, 537, 527, o1s_up_base, PURPLE, "D", 5, 2)
dots(ax, 537, 527, o1s_lo_base, PURPLE, "D", 5, 2)
dots(ax, 534.8, 530.4, o1s_up_green, GREEN, "v", 5.5, 3)
dots(ax, 535.0, 530.4, o1s_lo_green, GREEN, "v", 5.5, 3)
dots(ax, 533.0, 529.0, o1s_up_blue, BLUE, "^", 5.5, 3)
dots(ax, 533.4, 529.4, o1s_lo_blue, BLUE, "^", 5.5, 3)
dots(ax, 534.8, 529.0, o1s_up_red, RED, "o", 5.5, 4)
dots(ax, 535.0, 529.8, o1s_lo_red, RED, "o", 5.5, 4)
dots(ax, 537, 527, o1s_up_data, "black", "s", 5, 5)
dots(ax, 537, 527, o1s_lo_data, "black", "s", 5, 5)
dots(ax, 537, 527, o1s_up_env, PURPLE, "<", 6, 6)
dots(ax, 537, 527, o1s_lo_env, PURPLE, "<", 6, 6)
ax.set_xlim(537, 527)
ax.set_ylim(0, 1248)
style(ax, o1s_ticks, 1, fp_serif_22, lw=2.8, tlen=7)
ax.set_xlabel("Binding energy (eV)", fontproperties=fp_xlab_serif, labelpad=10)
ax.set_ylabel("Intensity (a.u.)", fontproperties=fp_ylab_serif, labelpad=10)
ax.text(536.6, 1115, "O1s", ha="left", va="center", fontproperties=fp_big)
ax.text(528.2, 740, FE3s, ha="center", va="center", fontproperties=fp_lab_sans)
ax.text(528.5, 135, "CDs", ha="center", va="center", fontproperties=fp_lab_sans)

# ---------------- g) S2p ----------------
ax = add_ax(79, 839, 1877, 2374)
for ys in (s2p_edta, s2p_fe):
    ax.plot(grid(173, 161, ys), ys, color="#a0a0a0", lw=1.6, marker="o", ms=4.5,
            mfc="#1a1a1a", mec="#1a1a1a", zorder=3)
dots(ax, 173, 161, s2p_base, PURPLE, "D", 5, 2)
dots(ax, 165.6, 163.0, s2p_blue, BLUE, "^", 5, 3)
dots(ax, 165.6, 161.8, s2p_green, GREEN, "^", 5, 3)
dots(ax, 171.6, 165.6, s2p_red, RED, "o", 6, 4)
dots(ax, 173, 161, s2p_data, "black", "s", 5, 5)
dots(ax, 173, 161, s2p_env, PURPLE, "o", 6, 6)
ax.set_xlim(173, 161)
ax.set_ylim(0, 1258)
style(ax, s2p_ticks, 1, fp_serif_22, lw=2.8, tlen=7)
ax.set_xlabel("Binding energy (eV)", fontproperties=fp_xlab_serif, labelpad=10)
ax.set_ylabel("Intensity (a.u.)", fontproperties=fp_ylab_serif, labelpad=10)
fp_g = FontProperties(family=SANS, size=22, math_fontfamily="dejavusans")
ax.text(172.83, 1180, EDTAs, ha="left", va="center", fontproperties=fp_g, zorder=8)
ax.text(172.7, 640, FE3s, ha="left", va="center", fontproperties=fp_g, zorder=8)
ax.text(172.5, 145, "CDs", ha="left", va="center", fontproperties=fp_g, zorder=8)
ax.text(161.55, 1120, "S2p", ha="right", va="center", fontproperties=fp_big, zorder=8)

# ---------------- h) Fe2p ----------------
ax = add_ax(973, 1730, 1876, 2370)
dots(ax, 738, 700, fe_up_data, "#111111", "s", 4.5, 2)
ax.plot(grid(738, 700, fe_up_base), fe_up_base, color="#4052e6", lw=5, zorder=3)
ax.plot(grid(724, 700, fe_up_green), fe_up_green, color=GREEN, lw=5, zorder=3)
ax.plot(grid(738, 713, fe_up_blue), fe_up_blue, color="#4052e6", lw=5, zorder=4)
ax.plot(grid(738, 700, fe_up_env), fe_up_env, color="#c055dd", lw=5.5, zorder=5)
ax.plot(grid(738, 700, fe_lo_data), fe_lo_data, color="black", lw=5, zorder=3)
ax.plot(grid(714, 707, fe_lo_green), fe_lo_green, color=GREEN, lw=1.5, zorder=3)
ax.plot(grid(738, 705.5, fe_lo_blue), fe_lo_blue, color="#4052e6", lw=5.5, zorder=4)
ax.plot(grid(738, 700, fe_lo_env), fe_lo_env, color="#c055dd", lw=5.5, marker="o", ms=4, zorder=5)
ax.set_xlim(738, 700)
ax.set_ylim(0, 1250)
style(ax, fe_ticks, 5, fp_serif_22, lw=2.8, tlen=7)
ax.set_xlabel("Binding energy (eV)", fontproperties=fp_xlab_serif, labelpad=10)
ax.set_ylabel("Intensity (a.u.)", fontproperties=fp_ylab_serif, labelpad=10)
ax.text(737.0, 1125, "Fe2p", ha="left", va="center", fontproperties=fp_big)
ax.text(700.5, 1160, EDTAs, ha="right", va="center", fontproperties=fp_lab_sans)
ax.text(700.5, 260, FE3s, ha="right", va="center", fontproperties=fp_lab_sans)

# ---------------- panel letters ----------------
for lab, px, py in [("a)", 6, 4), ("b)", 903, 4), ("c)", 6, 636), ("d)", 903, 630),
                    ("e)", 6, 1272), ("f)", 910, 1266), ("g)", 6, 1850), ("h)", 906, 1850)]:
    fig.text(px / W, 1 - py / H, lab, ha="left", va="top", fontproperties=fp_panel)

fig.savefig("out.png", dpi=100, facecolor="white")
